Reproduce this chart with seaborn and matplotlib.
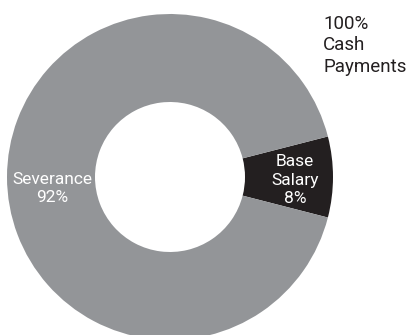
import matplotlib
matplotlib.use("Agg")
import matplotlib.pyplot as plt
import seaborn as sns

# Share of cash payments
categories = ["Base\nSalary", "Severance"]
shares = [8, 92]
title_lines = ["100%", "Cash", "Payments"]

sns.set_theme(style="white")
plt.rcParams["font.family"] = ["Roboto", "DejaVu Sans"]

colors = ["#231f20", "#939598"]

W, H = 411, 335
cx, cy, r = 170, 177, 163  # pixel geometry of the ring

fig = plt.figure(figsize=(W / 100, H / 100), dpi=100)
ax = fig.add_axes([0, 0, 1, 1])

half = shares[0] / sum(shares) * 360 / 2
wedges, _ = ax.pie(
    shares,
    colors=colors,
    startangle=-half,
    counterclock=True,
    radius=1,
    wedgeprops=dict(width=1 - 75 / 163, linewidth=0),
)

ax.set_xlim(-cx / r, (W - cx) / r)
ax.set_ylim(-(H - cy) / r, cy / r)
ax.set_aspect("auto")
ax.axis("off")

ax.text(0.767, -0.02, f"{categories[0]}\n{shares[0]}%", color="white",
        ha="center", va="center", fontsize=12.5, linespacing=1.3)
ax.text(-0.724, -0.07, f"{categories[1]}\n{shares[1]}%", color="white",
        ha="center", va="center", fontsize=12.5, linespacing=1.3)

fig.text(323 / W, 1 - 15 / H, "\n".join(title_lines), color="#231f20",
         ha="left", va="top", fontsize=13.5, linespacing=1.25)

fig.savefig("out.png", dpi=100)
